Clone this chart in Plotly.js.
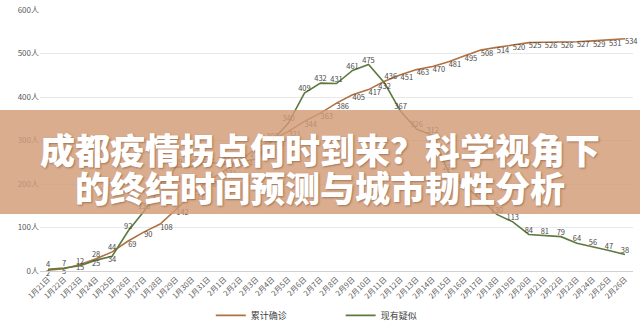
<!DOCTYPE html>
<html>
<head>
<meta charset="utf-8">
<script src="https://cdn.plot.ly/plotly-3.0.1.min.js"></script>
<style>
html,body{margin:0;padding:0;background:#fff;}
#chart{width:640px;height:327px;}
</style>
</head>
<body>
<div id="chart"></div>
<script>
const dates = ["1月21日","1月22日","1月23日","1月24日","1月25日","1月26日","1月27日","1月28日","1月29日","1月30日","1月31日",
  "2月1日","2月2日","2月3日","2月4日","2月5日","2月6日","2月7日","2月8日","2月9日","2月10日","2月11日","2月12日","2月13日",
  "2月14日","2月15日","2月16日","2月17日","2月18日","2月19日","2月20日","2月21日","2月22日","2月23日","2月24日","2月25日","2月26日"];
const confirmed = [2,5,15,28,44,69,90,108,142,177,207,231,254,282,301,321,344,363,386,405,417,436,451,463,470,481,495,508,514,520,525,526,526,527,529,531,534];
const suspected = [4,7,12,25,34,92,138,190,239,240,251,245,250,258,300,340,409,432,431,461,475,432,367,326,312,227,195,165,130,113,84,81,79,64,56,47,38];
const seriesNames = ["累计确诊","现有疑似"];
const titleLines = ["成都疫情拐点何时到来？科学视角下","的终结时间预测与城市韧性分析"];

const font = "Noto Sans CJK SC, Noto Sans, sans-serif";
const confPos = confirmed.map((v,i)=> i<3 ? "bottom center" : (i<5 ? "top center" : (i===21 ? "top right" : "bottom right")));
const suspPos = suspected.map((v,i)=> (i===3||i===4) ? "bottom center" : (i===21 ? "bottom center" : "top center"));

const traces = [
  {x: dates, y: confirmed, name: seriesNames[0], type: "scatter", mode: "lines+text",
   text: confirmed.map(String), textposition: confPos,
   textfont: {size: 7.5, color: "#4a4a4a", family: font},
   line: {color: "#B0703F", width: 1.6}, cliponaxis: false, legend: "legend"},
  {x: dates, y: suspected, name: seriesNames[1], type: "scatter", mode: "lines+text",
   text: suspected.map(String), textposition: suspPos,
   textfont: {size: 7.5, color: "#4a4a4a", family: font},
   line: {color: "#5C7A3E", width: 1.6}, cliponaxis: false, legend: "legend2"}
];

const legendBase = {orientation: "h", xanchor: "left", y: -0.17, yanchor: "middle",
    font: {size: 9, color: "#404040", family: font}, itemwidth: 30, bgcolor: "rgba(0,0,0,0)"};

const layout = {
  width: 640, height: 327,
  margin: {l: 40, r: 7, t: 10, b: 56, autoexpand: false},
  paper_bgcolor: "#ffffff", plot_bgcolor: "#ffffff",
  font: {family: font, color: "#595959"},
  showlegend: true,
  legend: Object.assign({}, legendBase, {x: 0.288}),
  legend2: Object.assign({}, legendBase, {x: 0.507}),
  xaxis: {type: "category", range: [-0.5, 36.5], tickangle: -45, automargin: false,
    tickfont: {size: 7.5, color: "#595959", family: font},
    showgrid: false, showline: true, linecolor: "#d0d0d0", linewidth: 1, ticks: "", fixedrange: true},
  yaxis: {range: [0, 600], dtick: 100, ticksuffix: "人", automargin: false,
    tickfont: {size: 8, color: "#595959", family: font},
    gridcolor: "#e8e8e8", gridwidth: 1, zeroline: false, showline: false, ticks: "", fixedrange: true},
  shapes: [
    {type: "rect", xref: "paper", yref: "paper", x0: -0.07, x1: 1.02,
     y0: (271-214)/261, y1: (271-110)/261,
     fillcolor: "rgba(210,155,118,0.82)", line: {width: 0}, layer: "above"}
  ],
  annotations: [
    {xref: "paper", yref: "paper", x: (320-40)/593, y: (271-148)/261, xanchor: "center", yanchor: "middle",
     text: titleLines[0], showarrow: false,
     font: {size: 35, color: "#ffffff", family: font, weight: 900, shadow: "1px 1px 2px rgba(90,50,20,0.45)"}},
    {xref: "paper", yref: "paper", x: (320-40)/593, y: (271-186)/261, xanchor: "center", yanchor: "middle",
     text: titleLines[1], showarrow: false,
     font: {size: 35, color: "#ffffff", family: font, weight: 900, shadow: "1px 1px 2px rgba(90,50,20,0.45)"}}
  ]
};

Plotly.newPlot("chart", traces, layout, {displayModeBar: false, staticPlot: true});
</script>
</body>
</html>
